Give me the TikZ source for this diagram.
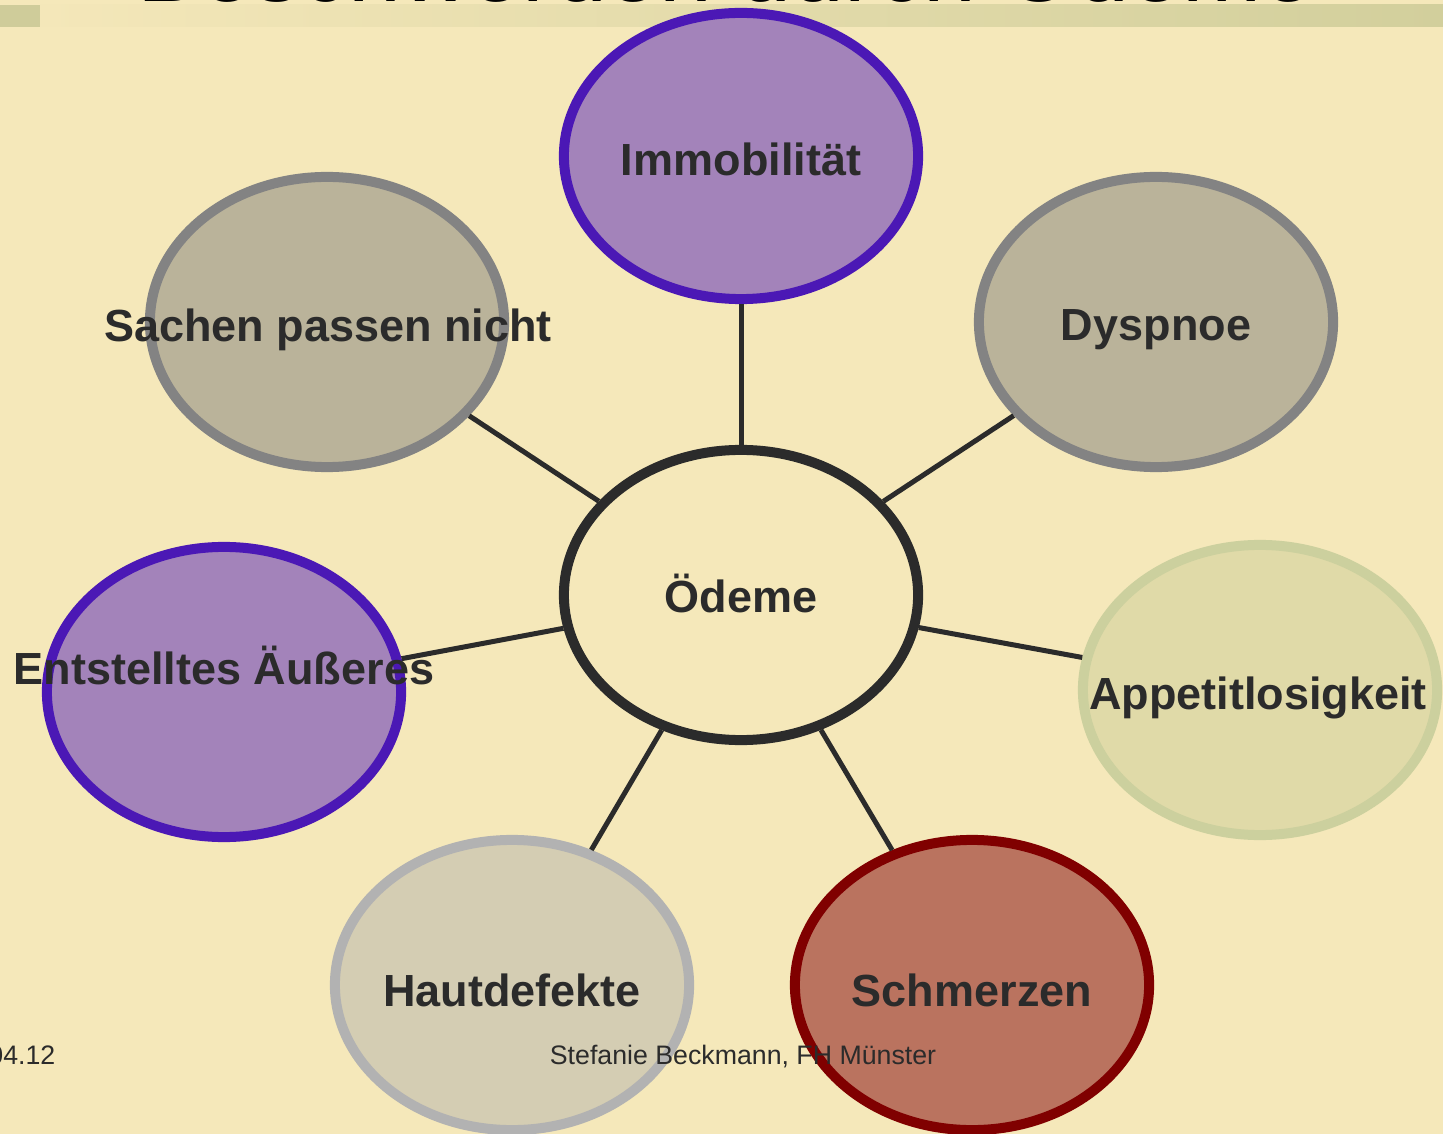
\documentclass[tikz,border=0pt]{standalone}
\usepackage{fontspec}
\setmainfont{Liberation Sans}
\usetikzlibrary{shapes.geometric}
\definecolor{bgcol}{HTML}{F5E8BA}
\definecolor{inkcol}{HTML}{2B2B2B}
\definecolor{lilafill}{HTML}{A383BA}
\definecolor{lilaline}{HTML}{4B18B5}
\definecolor{grayfill}{HTML}{BAB39A}
\definecolor{grayline}{HTML}{838383}
\definecolor{olivefill}{HTML}{E0DAA8}
\definecolor{oliveline}{HTML}{CCD09E}
\definecolor{sandfill}{HTML}{D4CDB3}
\definecolor{sandline}{HTML}{B2B2B2}
\definecolor{redfill}{HTML}{BA735F}
\definecolor{redline}{HTML}{800000}
\definecolor{bandleft}{HTML}{F4E7B9}
\definecolor{bandright}{HTML}{D2CF9C}
\definecolor{bandbox}{HTML}{CFCC9A}
\tikzset{
	bubble/.style={ellipse,line width=0.1cm,minimum width=3.54cm,minimum height=2.9cm,inner sep=0pt},
	link/.style={-,line width=0.05cm,draw=inkcol},
	lbl/.style={anchor=base,text=inkcol,font=\bfseries\fontsize{12.8}{14}\selectfont},
	foot/.style={anchor=base,inner sep=0pt,text=inkcol,font=\fontsize{7.6}{9}\selectfont}
}
\begin{document}
\begin{tikzpicture}[x=0.01cm,y=-0.01cm]
		\useasboundingbox (0,0) rectangle (1443,1134);
		\clip (0,0) rectangle (1443,1134);
		\fill[bgcol] (0,0) rectangle (1443,1134);
		\node[anchor=base east,inner sep=0pt,font=\fontsize{27}{30}\selectfont] (title) at (1315,2) {Beschwerden durch Ödeme};
		\shade[left color=bandleft,right color=bandright] (40,5) rectangle (1443,27);
		\fill[bandbox] (0,5) rectangle (40,27);
		\node[bubble,draw=inkcol,fill=bgcol,minimum height=2.9cm] (odem) at (741,595) {};
		\node[bubble,draw=lilaline,fill=lilafill,minimum height=2.86cm] (immo) at (741,156) {}
			edge[link] (odem);
		\node[bubble,draw=grayline,fill=grayfill] (dysp) at (1156,322) {}
			edge[link] (odem);
		\node[bubble,draw=grayline,fill=grayfill] (sach) at (327,322) {}
			edge[link] (odem);
		\node[bubble,draw=oliveline,fill=olivefill] (appe) at (1260,690) {}
			edge[link] (odem);
		\node[bubble,draw=lilaline,fill=lilafill] (ents) at (224,692) {}
			edge[link] (odem);
		\node[bubble,draw=sandline,fill=sandfill] (haut) at (512,985) {}
			edge[link] (odem);
		\node[bubble,draw=redline,fill=redfill] (schm) at (972,985) {}
			edge[link] (odem);
		\node[lbl] (odemtext) at (741,613) {Ödeme};
		\node[lbl] (immotext) at (741,176) {Immobilität};
		\node[lbl] (dysptext) at (1156,341) {Dyspnoe};
		\node[lbl] (sachtext) at (328,342) {Sachen passen nicht};
		\node[lbl] (appetext) at (1258,709) {Appetitlosigkeit};
		\node[lbl] (entstext) at (224,684) {Entstelltes Äußeres};
		\node[lbl] (hauttext) at (512,1006) {Hautdefekte};
		\node[lbl] (schmtext) at (972,1006) {Schmerzen};
		\node[foot] (author) at (743,1064) {Stefanie Beckmann, FH Münster};
		\node[foot,anchor=base east] (date) at (56,1064) {04.12};
	\end{tikzpicture}
\end{document}
